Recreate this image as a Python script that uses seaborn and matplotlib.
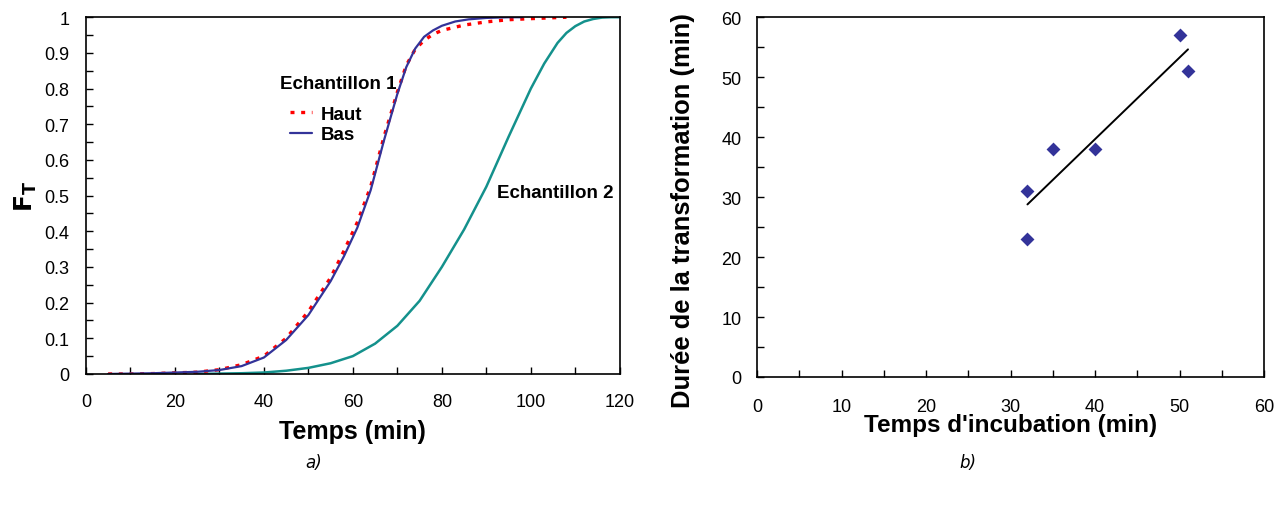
import numpy as np
import matplotlib
matplotlib.use("Agg")
import matplotlib.pyplot as plt
import seaborn as sns

# Panel a) : F_T vs temps
t_bas = [5, 10, 15, 20, 25, 30, 35, 40, 45, 50, 55, 58, 61, 64, 67, 70, 72, 74, 76, 78, 80, 83, 86, 90, 95, 98]
f_bas = [0, 0.001, 0.002, 0.004, 0.006, 0.011, 0.022, 0.046, 0.095, 0.165, 0.26, 0.33, 0.41, 0.515,
         0.655, 0.785, 0.86, 0.912, 0.945, 0.963, 0.976, 0.988, 0.994, 0.998, 1.0, 1.0]

t_haut = [5, 10, 15, 20, 25, 30, 35, 40, 45, 50, 55, 58, 61, 64, 67, 70, 72, 74, 76, 78, 80, 85, 90, 95, 100, 104, 108]
f_haut = [0, 0, 0.001, 0.003, 0.005, 0.012, 0.026, 0.05, 0.1, 0.175, 0.27, 0.345, 0.425, 0.525,
          0.665, 0.79, 0.865, 0.91, 0.935, 0.952, 0.963, 0.978, 0.987, 0.993, 0.996, 0.998, 1.0]

t_ech2 = [25, 30, 35, 40, 45, 50, 55, 60, 65, 70, 75, 80, 85, 90, 95, 100, 103, 106, 108, 110, 112, 114, 116, 118, 120]
f_ech2 = [0, 0.001, 0.002, 0.004, 0.009, 0.017, 0.03, 0.05, 0.085, 0.135, 0.205, 0.3, 0.405, 0.525,
          0.665, 0.8, 0.87, 0.928, 0.956, 0.975, 0.988, 0.995, 0.999, 1.0, 1.0]

# Panel b) : durée vs temps d'incubation
incubation = [32, 32, 35, 40, 50, 51]
duree = [31, 23, 38, 38, 57, 51]

yticks_a = [0, 0.1, 0.2, 0.3, 0.4, 0.5, 0.6, 0.7, 0.8, 0.9, 1]
ylabels_a = ["0", "0.1", "0.2", "0.3", "0.4", "0.5", "0.6", "0.7", "0.8", "0.9", "1"]

sns.set_style("ticks", {"xtick.direction": "in", "ytick.direction": "in"})
plt.rcParams["font.family"] = ["Liberation Sans", "DejaVu Sans"]
plt.rcParams["text.color"] = "black"
plt.rcParams["axes.labelcolor"] = "black"
plt.rcParams["xtick.color"] = "black"
plt.rcParams["ytick.color"] = "black"

navy = "#333399"
teal = "#14918c"

fig = plt.figure(figsize=(12.82, 5.06), dpi=100)
ax1 = fig.add_axes([0.067, 0.259, 0.4165, 0.705])
ax2 = fig.add_axes([0.5905, 0.253, 0.3955, 0.711])

# ---- a)
sns.lineplot(x=t_ech2, y=f_ech2, ax=ax1, color=teal, linewidth=1.8)
sns.lineplot(x=t_haut, y=f_haut, ax=ax1, color="red", linewidth=2.4,
             linestyle=(0, (1.2, 2.0)), label="Haut")
sns.lineplot(x=t_bas, y=f_bas, ax=ax1, color=navy, linewidth=1.6, label="Bas")

ax1.set_xlim(0, 120)
ax1.set_ylim(0, 1)
ax1.set_xticks(range(0, 121, 20))
ax1.set_xticks(range(10, 120, 20), minor=True)
ax1.set_yticks(yticks_a)
ax1.set_yticklabels(ylabels_a)
ax1.set_yticks(np.arange(0.05, 1.0, 0.1), minor=True)
ax1.tick_params(axis="both", which="both", length=5, width=1, labelsize=13)
ax1.tick_params(axis="x", which="major", pad=14)
ax1.tick_params(axis="y", which="major", pad=12)
ax1.set_xlabel("Temps (min)", fontsize=18, fontweight="bold", labelpad=6)
ax1.set_ylabel(r"$\mathbf{F_T}$", fontsize=18, labelpad=4)

ax1.text(43.6, 0.815, "Echantillon 1", fontsize=13.5, fontweight="bold", ha="left", va="center")
leg = ax1.legend(loc="upper left", bbox_to_anchor=(0.383, 0.752), frameon=False,
                 fontsize=13.5, handlelength=1.15, handletextpad=0.45,
                 labelspacing=0.18, borderpad=0, borderaxespad=0)
for txt in leg.get_texts():
    txt.set_fontweight("bold")

ax1.text(105.4, 0.51, "Echantillon 2", fontsize=13.5, fontweight="bold", ha="center", va="center")

# ---- b)
sns.regplot(x=incubation, y=duree, ax=ax2, ci=None, marker="D",
            scatter_kws={"color": navy, "s": 50, "alpha": 1, "linewidths": 0},
            line_kws={"color": "black", "linewidth": 1.4})
ax2.set_xlim(0, 60)
ax2.set_ylim(0, 60)
ax2.set_xticks(range(0, 61, 10))
ax2.set_xticks(range(5, 60, 10), minor=True)
ax2.set_yticks(range(0, 61, 10))
ax2.set_yticks(range(5, 60, 10), minor=True)
ax2.tick_params(axis="both", which="both", length=5, width=1, labelsize=13)
ax2.tick_params(axis="x", which="major", pad=15)
ax2.tick_params(axis="y", which="major", pad=11)
ax2.set_xlabel("Temps d'incubation (min)", fontsize=17.5, fontweight="bold", labelpad=-1)
ax2.set_ylabel("Durée de la transformation (min)", fontsize=18.4, fontweight="bold")
ax2.yaxis.set_label_coords(-0.122, 0.464)

for ax in (ax1, ax2):
    for sp in ax.spines.values():
        sp.set_color("black")
        sp.set_linewidth(1.2)

fig.text(0.245, 0.075, "a)", fontsize=12, style="italic", family="DejaVu Sans", ha="center")
fig.text(0.755, 0.075, "b)", fontsize=12, style="italic", family="DejaVu Sans", ha="center")

fig.savefig("out.png", dpi=100)
